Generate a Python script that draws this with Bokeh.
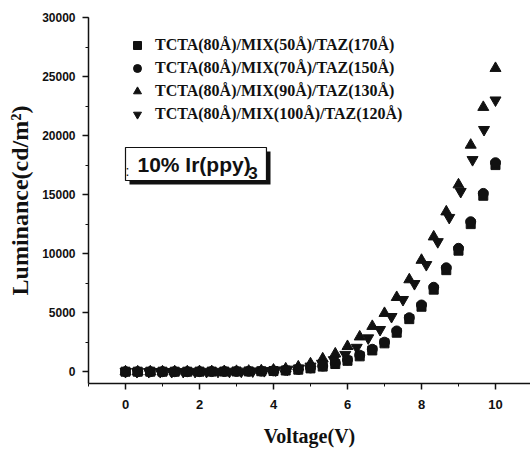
from bokeh.plotting import figure
from bokeh.models import (Legend, LegendItem, Label, BoxAnnotation,
                          SingleIntervalTicker, Range1d)
from bokeh.embed import file_html
from bokeh.resources import INLINE

# ---- data ----
voltage = [0, 0.33, 0.67, 1.0, 1.33, 1.67, 2.0, 2.33, 2.67, 3.0, 3.33, 3.67, 4.0, 4.33, 4.67,
           5.0, 5.33, 5.67, 6.0, 6.33, 6.67, 7.0, 7.33, 7.67, 8.0, 8.33, 8.67, 9.0, 9.33, 9.67, 10.0]
lum_50 = [0, 0, 0, 0, 0, 0, 5, 8, 12, 18, 25, 40, 60, 100, 170, 280, 430, 650, 920, 1300,
          1800, 2400, 3300, 4450, 5500, 6950, 8600, 10250, 12500, 14900, 17500]
lum_70 = [0, 0, 0, 0, 0, 0, 5, 10, 15, 20, 30, 45, 70, 120, 200, 320, 480, 720, 1000, 1400,
          1900, 2500, 3450, 4570, 5650, 7150, 8800, 10450, 12700, 15100, 17700]
lum_90 = [0, 0, 0, 0, 10, 10, 20, 20, 30, 40, 60, 90, 150, 250, 420, 680, 1100, 1520, 2150,
          2960, 3850, 4950, 6300, 7800, 9450, 11430, 13550, 15840, 19200, 22400, 25700]
voltage_100 = [0, 0.31, 0.63, 0.94, 1.25, 1.56, 1.88, 2.19, 2.5, 2.81, 3.13, 3.44, 3.75, 4.06,
               4.38, 4.69, 5.0, 5.31, 5.63, 5.94, 6.25, 6.56, 6.88, 7.19, 7.5, 7.81, 8.13,
               8.44, 8.75, 9.06, 9.38, 9.69, 10.0]
lum_100 = [0, 0, 0, 0, 0, 5, 10, 10, 15, 20, 30, 50, 80, 130, 200, 300, 460, 700, 1000, 1450,
           2050, 2850, 3560, 4660, 6100, 7450, 9060, 11000, 13050, 15250, 17950, 20500, 23000]

labels = ["TCTA(80\u00c5)/MIX(50\u00c5)/TAZ(170\u00c5)",
          "TCTA(80\u00c5)/MIX(70\u00c5)/TAZ(150\u00c5)",
          "TCTA(80\u00c5)/MIX(90\u00c5)/TAZ(130\u00c5)",
          "TCTA(80\u00c5)/MIX(100\u00c5)/TAZ(120\u00c5)"]
x_ticks_major = 2
y_ticks_major = 5000

INK = "#111111"
SANS = "Liberation Sans"
SERIF = "Liberation Serif"

p = figure(width=530, height=454, output_backend="svg", toolbar_location=None,
           x_range=Range1d(-1, 10.946), y_range=Range1d(-1000, 30000),
           min_border_left=88, min_border_right=0, min_border_top=17, min_border_bottom=71)
p.outline_line_color = None
p.grid.visible = False
p.background_fill_color = "white"
p.border_fill_color = "white"

r1 = p.scatter(voltage, lum_50, marker="square", size=9, color=INK)
r2 = p.scatter(voltage, lum_70, marker="circle", size=10, color=INK)
r3 = p.scatter(voltage, lum_90, marker="triangle", size=11, color=INK)
r4 = p.scatter(voltage_100, lum_100, marker="inverted_triangle", size=11, color=INK)

legend = Legend(items=[LegendItem(label=labels[0], renderers=[r1]),
                       LegendItem(label=labels[1], renderers=[r2]),
                       LegendItem(label=labels[2], renderers=[r3]),
                       LegendItem(label=labels[3], renderers=[r4])],
                location=(39, 259), padding=0, margin=0, spacing=3,
                glyph_width=20, glyph_height=20, label_height=20, label_standoff=8,
                border_line_color=None, background_fill_alpha=0,
                label_text_font=SERIF, label_text_font_style="bold",
                label_text_font_size="16px", label_text_color=INK,
                label_text_baseline="middle")
p.add_layout(legend, "center")

# annotation box with shadow
p.add_layout(BoxAnnotation(left=0.108, right=3.919, top=18650, bottom=15855,
                           fill_color=INK, fill_alpha=1, line_color=None, level="annotation"))
p.add_layout(BoxAnnotation(left=0.0, right=3.81, top=18989, bottom=16194,
                           fill_color="white", fill_alpha=1, line_color=INK, line_alpha=1,
                           line_width=1.2, level="annotation"))
p.add_layout(Label(x=0.054, y=17000, text=":", text_font=SANS, text_font_size="14px",
                   text_color=INK, text_align="center", text_baseline="middle"))
p.add_layout(Label(x=0.324, y=17507, text="10% Ir(ppy)",
                   text_font=SANS, text_font_style="bold", text_font_size="21px",
                   text_color=INK, text_baseline="middle"))
p.add_layout(Label(x=3.32, y=16871, text="3",
                   text_font=SANS, text_font_style="bold", text_font_size="17px",
                   text_color=INK, text_baseline="middle"))

for ax in (p.xaxis[0], p.yaxis[0]):
    ax.axis_line_color = INK
    ax.axis_line_width = 1.5
    ax.major_tick_line_color = INK
    ax.major_tick_line_width = 1.5
    ax.minor_tick_line_color = INK
    ax.major_tick_in = 0
    ax.major_tick_out = 6
    ax.minor_tick_in = 0
    ax.minor_tick_out = 3
    ax.major_label_text_font = SANS
    ax.major_label_text_font_style = "bold"
    ax.major_label_text_color = INK
    ax.axis_label_text_font = SERIF
    ax.axis_label_text_font_style = "bold"
    ax.axis_label_text_color = INK

p.xaxis[0].ticker = SingleIntervalTicker(interval=x_ticks_major, num_minor_ticks=2)
p.yaxis[0].ticker = SingleIntervalTicker(interval=y_ticks_major, num_minor_ticks=2)
p.xaxis[0].major_label_text_font_size = "13px"
p.yaxis[0].major_label_text_font_size = "12px"
p.xaxis[0].major_label_standoff = 10
p.yaxis[0].major_label_standoff = 7
p.xaxis[0].axis_label = "Voltage(V)"
p.yaxis[0].axis_label = "Luminance(cd/m\u00b2)"
p.xaxis[0].axis_label_text_font_size = "20px"
p.yaxis[0].axis_label_text_font_size = "24px"
p.xaxis[0].axis_label_standoff = 13
p.yaxis[0].axis_label_standoff = 6

open("out.html", "w").write(file_html(p, INLINE))
